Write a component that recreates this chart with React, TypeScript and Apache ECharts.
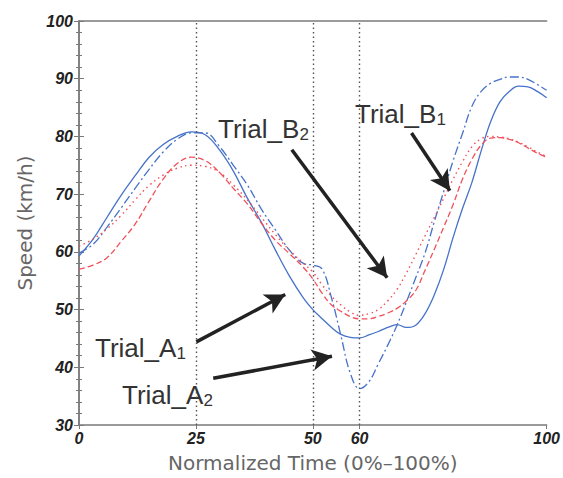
import React, { useEffect, useRef } from 'react';
import * as echarts from 'echarts';

// Normalized time (%) sample points
const timePct = [0, 3, 6, 9, 12, 15, 18, 21, 24, 27, 30, 33, 36, 39, 42, 45, 48, 50, 52, 54, 56, 58, 60, 62, 64, 66, 68, 70, 72, 74, 76, 78, 80, 82, 84, 86, 88, 90, 92, 94, 96, 98, 100];

// Speed (km/h) per trial
const trialA1 = [59.3, 62.2, 66.0, 69.8, 73.2, 76.4, 78.6, 80.0, 80.8, 80.3, 77.7, 74.0, 69.3, 65.1, 60.3, 55.8, 52.0, 50.0, 48.4, 46.9, 45.7, 45.2, 45.1, 45.6, 46.2, 46.9, 47.4, 46.9, 47.3, 49.3, 52.6, 57.0, 62.5, 67.5, 72.0, 77.5, 82.5, 86.0, 87.8, 88.7, 88.6, 87.8, 86.7];
const trialA2 = [59.8, 61.3, 64.3, 67.6, 71.0, 74.3, 77.3, 79.5, 80.6, 80.6, 78.3, 75.0, 71.6, 67.4, 63.8, 60.3, 58.0, 57.7, 57.0, 52.0, 45.5, 39.0, 36.3, 37.5, 40.6, 43.8, 47.3, 51.3, 55.5, 59.8, 65.3, 70.5, 75.8, 80.5, 85.2, 87.8, 89.2, 89.9, 90.3, 90.3, 89.9, 89.0, 88.0];
const trialB1 = [57.0, 57.7, 59.0, 61.8, 64.8, 68.8, 72.6, 75.3, 76.4, 75.8, 73.8, 71.0, 68.3, 65.0, 62.0, 59.7, 57.3, 55.3, 52.8, 50.8, 49.7, 48.8, 48.4, 48.4, 48.8, 49.4, 50.2, 51.5, 53.3, 56.8, 60.5, 64.3, 68.2, 72.6, 76.0, 78.5, 79.7, 79.8, 79.5, 78.9, 78.0, 77.1, 76.4];
const trialB2 = [61.0, 62.2, 64.0, 66.3, 69.0, 71.5, 73.3, 74.5, 75.0, 74.8, 73.8, 71.6, 69.0, 66.0, 63.0, 60.3, 58.0, 56.5, 54.3, 52.3, 50.8, 49.6, 49.0, 49.3, 50.0, 51.5, 53.5, 56.3, 59.5, 62.8, 66.0, 69.3, 72.6, 75.6, 78.2, 79.6, 80.0, 79.9, 79.6, 79.0, 78.2, 77.3, 76.5];

// Axis ticks
const xTickValues = [0, 25, 50, 60, 100];
const guideLines = [25, 50, 60];
const yMin = 30;
const yMax = 100;
const yStep = 10;

const xAxisName = 'Normalized Time (0%\u2013100%)';
const yAxisName = 'Speed (km/h)';

// Annotation arrows in data coordinates: [startX, startY, endX, endY]
const arrowA1 = [25.1, 44.4, 44.1, 52.6];
const arrowA2 = [28.7, 38.1, 54.1, 41.9];
const arrowB2 = [45.5, 77.7, 65.9, 55.5];
const arrowB1 = [71.1, 80.6, 79.3, 70.6];

const labelNames = ['Trial_A', 'Trial_A', 'Trial_B', 'Trial_B'];
const labelSubs = ['1', '2', '2', '1'];

export default function App() {
  const ref = useRef<HTMLDivElement>(null);

  useEffect(() => {
    if (!ref.current) return;
    const chart = echarts.init(ref.current, null, { renderer: 'svg' });
    const pairs = (vals: number[]) => timePct.map((t, i) => [t, vals[i]]);
    const axisColor = '#7a7a7a';
    const blue = '#4672c8';
    const red = '#f0505a';
    const tickLabel = {
      fontSize: 16,
      fontWeight: 'bold' as const,
      fontStyle: 'italic' as const,
      color: '#222',
      fontFamily: 'Liberation Sans',
    };
    const arrows = [arrowA1, arrowA2, arrowB2, arrowB1];
    const labelPos = [
      [95, 348],
      [122, 395],
      [218, 129],
      [355, 114],
    ];

    const option: any = {
      animation: false,
      backgroundColor: '#ffffff',
      grid: { left: 79, top: 21, right: 14, bottom: 51, containLabel: false },
      xAxis: [
        {
          type: 'value',
          min: 0,
          max: 100,
          position: 'bottom',
          axisLine: { show: true, lineStyle: { color: axisColor, width: 1.5 } },
          axisTick: { show: true, inside: false, length: 4, customValues: xTickValues, lineStyle: { color: axisColor } },
          axisLabel: { ...tickLabel, customValues: xTickValues, margin: 5 },
          splitLine: { show: false },
          name: xAxisName,
          nameLocation: 'middle',
          nameGap: 28,
          nameTextStyle: { fontSize: 20, color: '#666', fontFamily: 'DejaVu Sans' },
        },
        {
          type: 'value',
          min: 0,
          max: 100,
          position: 'top',
          axisLine: { show: true, lineStyle: { color: axisColor, width: 1.5 } },
          axisTick: { show: false },
          axisLabel: { show: false },
          splitLine: { show: false },
        },
      ],
      yAxis: [
        {
          type: 'value',
          min: yMin,
          max: yMax,
          interval: yStep,
          position: 'left',
          axisLine: { show: true, lineStyle: { color: axisColor, width: 1.5 } },
          axisTick: { show: true, inside: true, length: 5, lineStyle: { color: axisColor } },
          minorTick: { show: true, splitNumber: 5, length: 3, lineStyle: { color: axisColor } },
          axisLabel: { ...tickLabel, margin: 6 },
          splitLine: { show: false },
          name: yAxisName,
          nameLocation: 'middle',
          nameGap: 44,
          nameTextStyle: { fontSize: 20, color: '#666', fontFamily: 'DejaVu Sans' },
        },
        {
          type: 'value',
          min: yMin,
          max: yMax,
          interval: yStep,
          position: 'right',
          axisLine: { show: true, lineStyle: { color: axisColor, width: 1.5 } },
          axisTick: { show: true, inside: true, length: 5, lineStyle: { color: axisColor } },
          minorTick: { show: true, splitNumber: 5, length: 3, lineStyle: { color: axisColor } },
          axisLabel: { show: false },
          splitLine: { show: false },
        },
      ],
      series: [
        {
          name: 'Trial_A1',
          type: 'line',
          data: pairs(trialA1),
          smooth: 0.4,
          symbol: 'none',
          lineStyle: { color: blue, width: 1.3, type: 'solid' },
          markLine: {
            silent: true,
            symbol: 'none',
            label: { show: false },
            lineStyle: { color: '#555', width: 1.4, type: [1.5, 3] },
            data: guideLines.map((v) => ({ xAxis: v })),
          },
        },
        {
          name: 'Trial_A2',
          type: 'line',
          data: pairs(trialA2),
          smooth: 0.4,
          symbol: 'none',
          lineStyle: { color: blue, width: 1.3, type: [9, 3, 2, 3] },
        },
        {
          name: 'Trial_B1',
          type: 'line',
          data: pairs(trialB1),
          smooth: 0.4,
          symbol: 'none',
          lineStyle: { color: red, width: 1.3, type: [6, 3] },
        },
        {
          name: 'Trial_B2',
          type: 'line',
          data: pairs(trialB2),
          smooth: 0.4,
          symbol: 'none',
          lineStyle: { color: red, width: 1.4, type: [1.5, 3.5] },
          markLine: {
            silent: true,
            symbol: ['none', 'arrow'],
            symbolSize: [16, 20],
            label: { show: false },
            lineStyle: { color: '#222', width: 3.5, type: 'solid' },
            data: arrows.map((a) => [{ coord: [a[0], a[1]] }, { coord: [a[2], a[3]] }]),
          },
        },
      ],
      graphic: labelNames.map((n, i) => ({
        type: 'text',
        x: labelPos[i][0],
        y: labelPos[i][1],
        silent: true,
        style: {
          text: `{m|${n}}{s|${labelSubs[i]}}`,
          verticalAlign: 'middle',
          rich: {
            m: { fontSize: 26, fontFamily: 'Liberation Sans', fill: '#333', lineHeight: 28 },
            s: { fontSize: 17, fontFamily: 'Liberation Sans', fill: '#333', lineHeight: 16, verticalAlign: 'bottom' },
          },
        },
      })),
    };

    chart.setOption(option);
    return () => chart.dispose();
  }, []);

  return <div ref={ref} style={{ position: 'absolute', left: 0, top: 0, width: 563, height: 478 }} />;
}
